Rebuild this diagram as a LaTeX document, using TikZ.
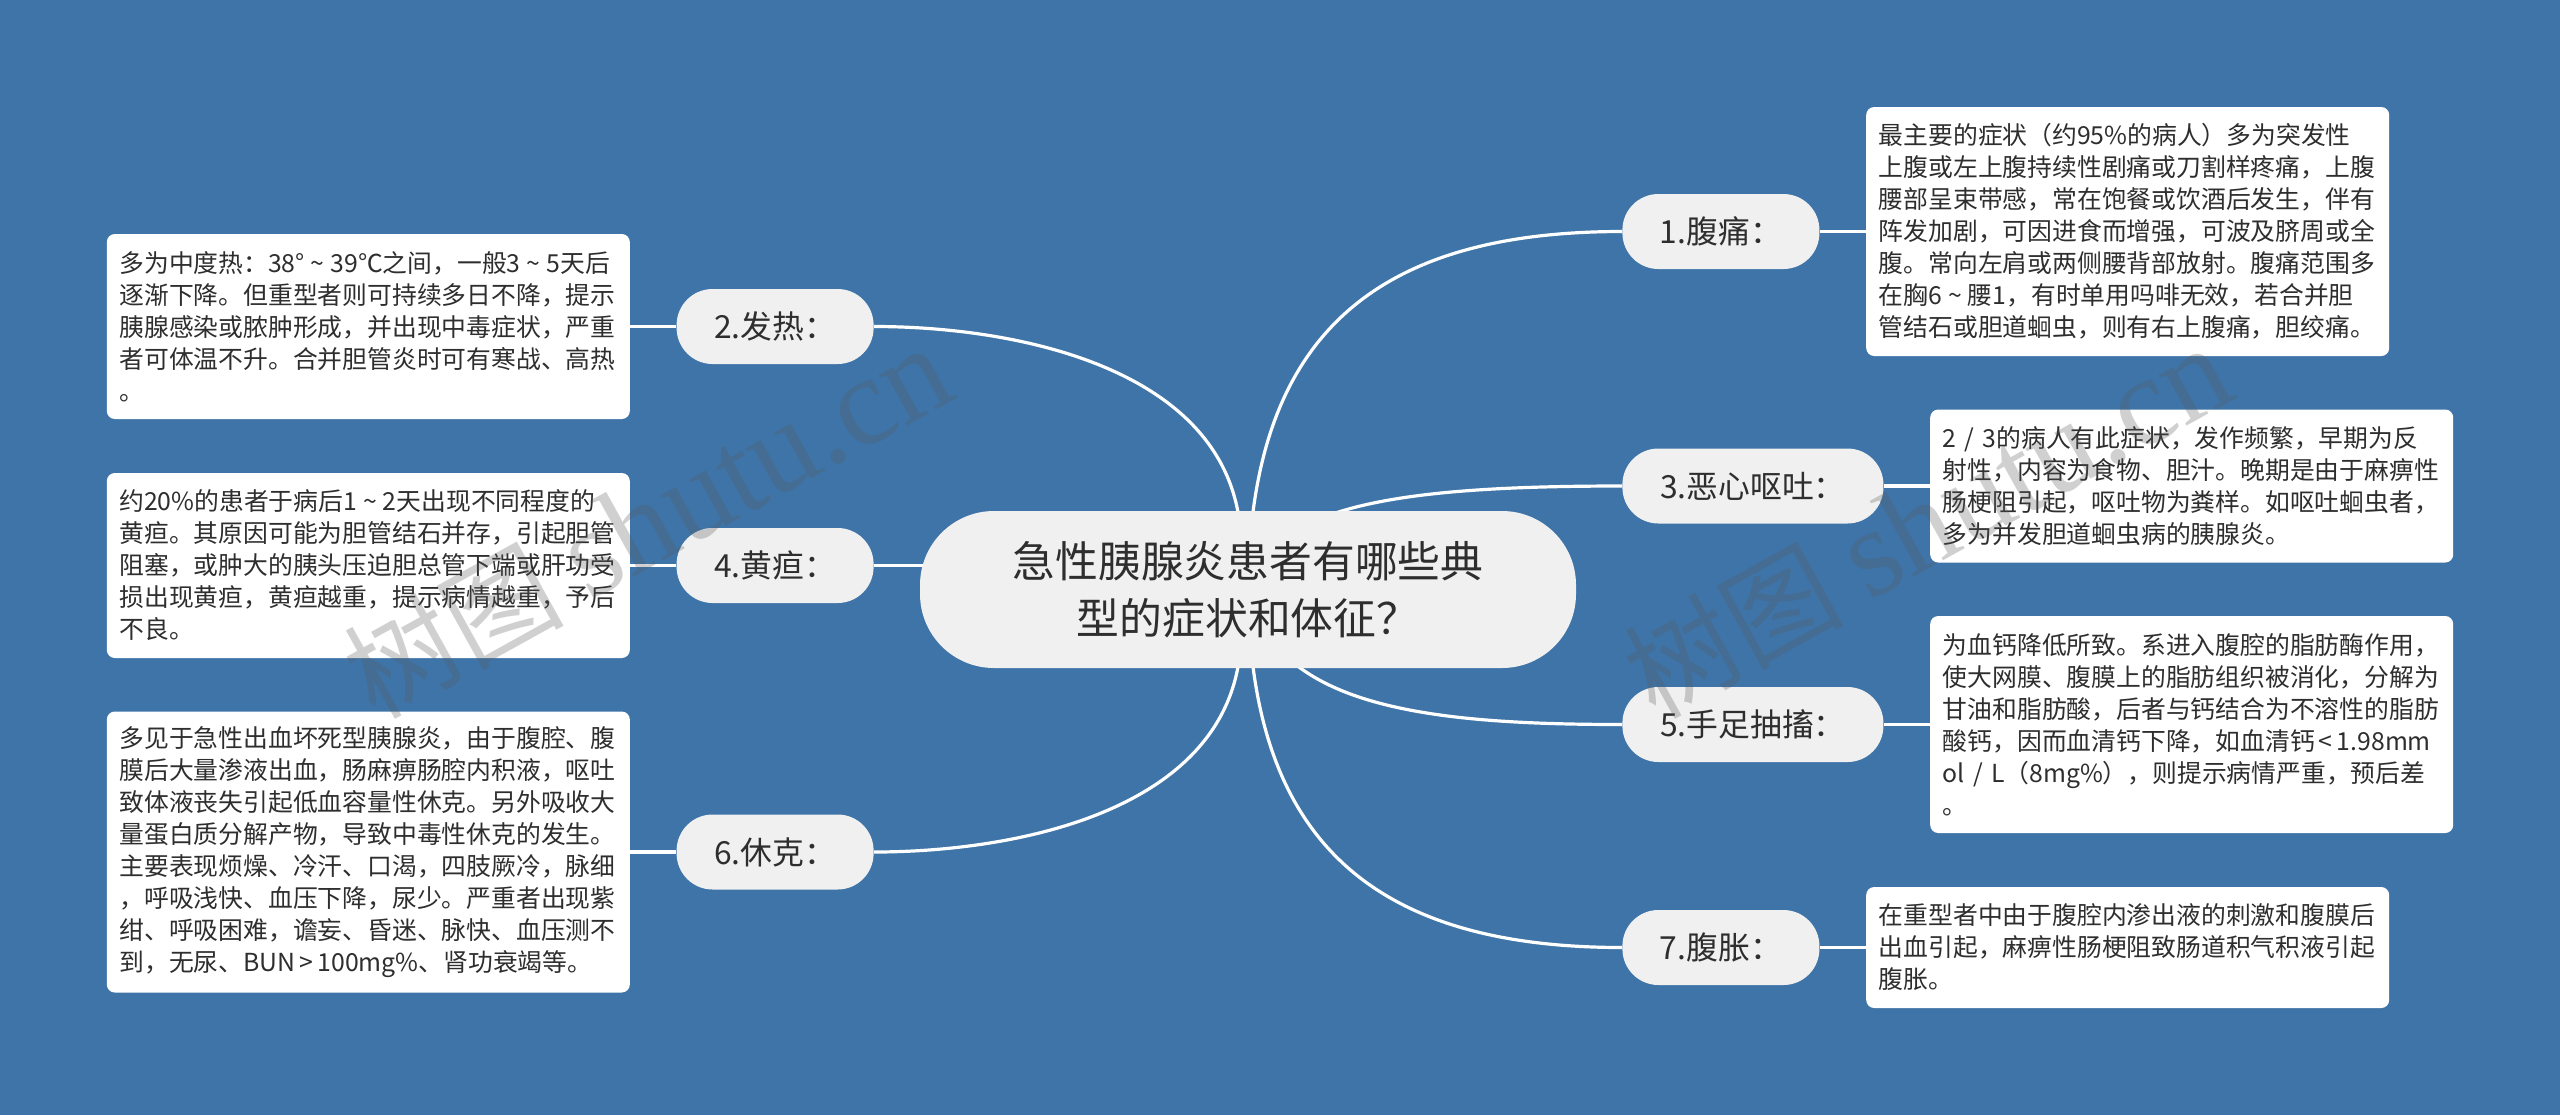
\documentclass[tikz,border=0pt]{standalone}
\usepackage{fontspec}
\setmainfont{Noto Sans CJK SC}
\newfontfamily\markfont{Liberation Serif}
\usetikzlibrary{positioning,backgrounds}
\definecolor{pagebg}{HTML}{3E74A8}
\definecolor{nodebg}{HTML}{F0F0F0}
\definecolor{inkdark}{HTML}{2E2E2E}
\newcommand{\tld}{\hspace{3pt}\textasciitilde\hspace{3pt}}
\newcommand{\zc}{\symbol{"FF0C}}
\newcommand{\zk}{\symbol{"FF1A}}
\newcommand{\zq}{\symbol{"FF1F}}
\newcommand{\zl}{\symbol{"FF08}}
\newcommand{\zr}{\symbol{"FF09}}
\tikzset{
  rootnode/.style={fill=nodebg, text=inkdark, rounded corners=37pt, align=center, inner sep=0pt,
    minimum width=328pt, minimum height=78.5pt, font=\fontsize{21.4pt}{28.5pt}\selectfont},
  branch/.style={fill=nodebg, text=inkdark, rounded corners=18pt, inner sep=0pt,
    minimum width=98.5pt, minimum height=37.5pt, font=\fontsize{15.9pt}{18pt}\selectfont},
  widebranch/.style={branch, minimum width=130.5pt},
  leafbox/.style={fill=white, text=inkdark, rounded corners=4pt, align=left, text width=250.5pt,
    inner xsep=5.5pt, inner ysep=0pt, xshift=0pt, font=\fontsize{12.4pt}{16pt}\selectfont},
  leafrows/.style={minimum height=#1*16pt+12.5pt},
  link/.style={draw=white, line width=1.6pt},
  markstyle/.style={text=black!65, text opacity=.28, inner sep=0pt, font=\fontsize{55pt}{62pt}\selectfont},
}

\begin{document}
\begin{tikzpicture}[x=.5pt, y=-.5pt, node distance=23pt]
  \useasboundingbox (0,0) rectangle (2560,1115);

  \node[rootnode] (root) at (1248,589.5) {急性胰腺炎患者有哪些典\\型的症状和体征\zq{}};

  \node[branch, anchor=west] (n1) at (1622,231.5) {1.腹痛\zk{}};
  \node[branch, anchor=east] (n2) at (874,326.5) {2.发热\zk{}};
  \node[widebranch, anchor=west] (n3) at (1622,486) {3.恶心呕吐\zk{}};
  \node[branch, anchor=east] (n4) at (874,565.5) {4.黄疸\zk{}};
  \node[widebranch, anchor=west] (n5) at (1622,724.5) {5.手足抽搐\zk{}};
  \node[branch, anchor=east] (n6) at (874,852) {6.休克\zk{}};
  \node[branch, anchor=west] (n7) at (1622,947.5) {7.腹胀\zk{}};

  \node[leafbox, leafrows=7, right=of n1] (t1) {\hspace{.8pt}最主要的症状\zl{}约95\%的病人\zr{}多为突发性\\\hspace{.8pt}上腹或左上腹持续性剧痛或刀割样疼痛\zc{}上腹\\\hspace{.8pt}腰部呈束带感\zc{}常在饱餐或饮酒后发生\zc{}伴有\\\hspace{.8pt}阵发加剧\zc{}可因进食而增强\zc{}可波及脐周或全\\\hspace{.8pt}腹。常向左肩或两侧腰背部放射。腹痛范围多\\\hspace{.8pt}在胸6\tld{}腰1\zc{}有时单用吗啡无效\zc{}若合并胆\\\hspace{.8pt}管结石或胆道蛔虫\zc{}则有右上腹痛\zc{}胆绞痛。};
  \node[leafbox, leafrows=5, left=of n2] (t2) {\hspace{.8pt}多为中度热\zk{}38°\tld{}39℃之间\zc{}一般3\tld{}5天后\\\hspace{.8pt}逐渐下降。但重型者则可持续多日不降\zc{}提示\\\hspace{.8pt}胰腺感染或脓肿形成\zc{}并出现中毒症状\zc{}严重\\\hspace{.8pt}者可体温不升。合并胆管炎时可有寒战、高热\\\hspace{.8pt}。};
  \node[leafbox, leafrows=4, right=of n3] (t3) {\hspace{.8pt}2 / 3的病人有此症状\zc{}发作频繁\zc{}早期为反\\\hspace{.8pt}射性\zc{}内容为食物、胆汁。晚期是由于麻痹性\\\hspace{.8pt}肠梗阻引起\zc{}呕吐物为粪样。如呕吐蛔虫者\zc{}\\\hspace{.8pt}多为并发胆道蛔虫病的胰腺炎。};
  \node[leafbox, leafrows=5, left=of n4] (t4) {\hspace{.8pt}约20\%的患者于病后1\tld{}2天出现不同程度的\\\hspace{.8pt}黄疸。其原因可能为胆管结石并存\zc{}引起胆管\\\hspace{.8pt}阻塞\zc{}或肿大的胰头压迫胆总管下端或肝功受\\\hspace{.8pt}损出现黄疸\zc{}黄疸越重\zc{}提示病情越重\zc{}予后\\\hspace{.8pt}不良。};
  \node[leafbox, leafrows=6, right=of n5] (t5) {\hspace{.8pt}为血钙降低所致。系进入腹腔的脂肪酶作用\zc{}\\\hspace{.8pt}使大网膜、腹膜上的脂肪组织被消化\zc{}分解为\\\hspace{.8pt}甘油和脂肪酸\zc{}后者与钙结合为不溶性的脂肪\\\hspace{.8pt}酸钙\zc{}因而血清钙下降\zc{}如血清钙\,<\,1.98mm\\\hspace{.8pt}ol / L\zl{}8mg\%\zr{}\zc{}则提示病情严重\zc{}预后差\\\hspace{.8pt}。};
  \node[leafbox, leafrows=8, left=of n6] (t6) {\hspace{.8pt}多见于急性出血坏死型胰腺炎\zc{}由于腹腔、腹\\\hspace{.8pt}膜后大量渗液出血\zc{}肠麻痹肠腔内积液\zc{}呕吐\\\hspace{.8pt}致体液丧失引起低血容量性休克。另外吸收大\\\hspace{.8pt}量蛋白质分解产物\zc{}导致中毒性休克的发生。\\\hspace{.8pt}主要表现烦燥、冷汗、口渴\zc{}四肢厥冷\zc{}脉细\\\hspace{.8pt}\zc{}呼吸浅快、血压下降\zc{}尿少。严重者出现紫\\\hspace{.8pt}绀、呼吸困难\zc{}谵妄、昏迷、脉快、血压测不\\\hspace{.8pt}到\zc{}无尿、BUN\,>\,100mg\%、肾功衰竭等。};
  \node[leafbox, leafrows=3, right=of n7] (t7) {\hspace{.8pt}在重型者中由于腹腔内渗出液的刺激和腹膜后\\\hspace{.8pt}出血引起\zc{}麻痹性肠梗阻致肠道积气积液引起\\\hspace{.8pt}腹胀。};

  \coordinate (hub2) at (1241,540);
  \coordinate (hub6) at (1241,639);

  \begin{scope}[on background layer]
    \fill[pagebg] (0,0) rectangle (2560,1115);
    \draw[link] (root.center) .. controls (1250,340) and (1370,231.5) .. (n1.west);
    \draw[link] (root.center) .. controls (1270,505) and (1400,486) .. (n3.west);
    \draw[link] (root.center) .. controls (1275,705) and (1420,724.5) .. (n5.west);
    \draw[link] (root.center) .. controls (1250,838) and (1370,947.5) .. (n7.west);
    \draw[link] (hub2) .. controls (1235,370) and (1020,326.5) .. (n2.east);
    \draw[link] (n4.east) -- (n4.east -| root.center);
    \draw[link] (hub6) .. controls (1235,809) and (1020,852) .. (n6.east);
    \draw[link] (n1) -- (t1);
    \draw[link] (n2) -- (t2);
    \draw[link] (n3) -- (t3);
    \draw[link] (n4) -- (t4);
    \draw[link] (n5) -- (t5);
    \draw[link] (n6) -- (t6);
    \draw[link] (n7) -- (t7);
  \end{scope}

  \node[markstyle, rotate=29] (mark1) at (647,522) {树图 {\markfont\fontsize{63pt}{62pt}\selectfont shutu.cn}};
  \node[markstyle, rotate=29] (mark2) at (1927,522) {树图 {\markfont\fontsize{63pt}{62pt}\selectfont shutu.cn}};
\end{tikzpicture}
\end{document}
